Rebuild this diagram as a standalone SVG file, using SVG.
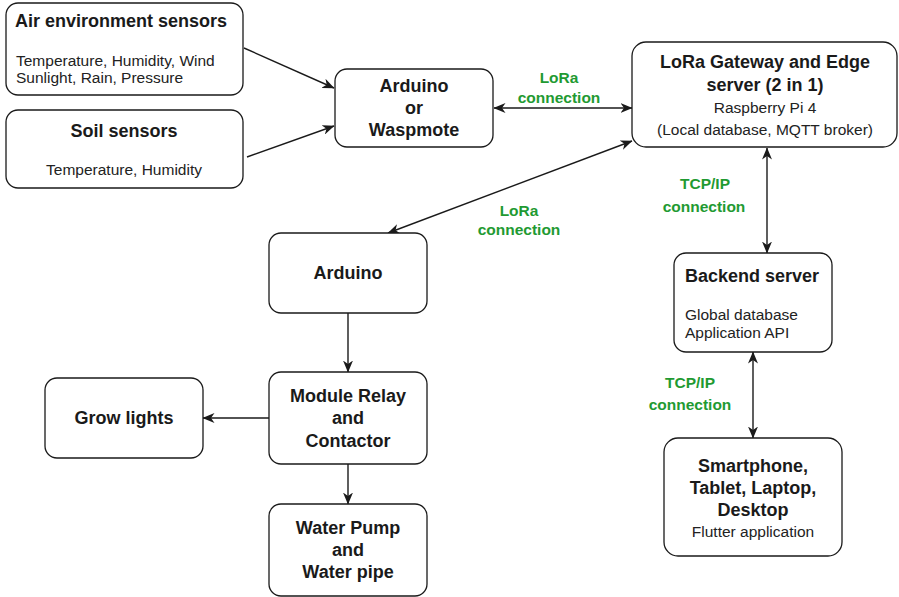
<svg xmlns="http://www.w3.org/2000/svg" width="899" height="597" viewBox="0 0 899 597">
<style>
.box{fill:#fff;stroke:#1a1a1a;stroke-width:1.3}
.b{font-family:"Liberation Sans",Arial,sans-serif;font-weight:bold;font-size:18px;fill:#1a1a1a}
.r{font-family:"Liberation Sans",Arial,sans-serif;font-size:15.5px;fill:#222}
.g{font-family:"Liberation Sans",Arial,sans-serif;font-weight:bold;font-size:15.5px;fill:#1f9a32}
.c{text-anchor:middle}
.ln{fill:none;stroke:#1a1a1a;stroke-width:1.4}
</style>
<defs>
<marker id="ah" viewBox="0 0 12 10" refX="11.5" refY="5" markerWidth="12" markerHeight="10" markerUnits="userSpaceOnUse" orient="auto-start-reverse">
<path d="M0,0 L12,5 L0,10 L3.5,5 Z" fill="#1a1a1a"/>
</marker>
</defs>
<rect width="899" height="597" fill="#fff"/>
<g id="connectors">
<line class="ln" x1="244" y1="48" x2="334" y2="88" marker-end="url(#ah)"/>
<line class="ln" x1="247" y1="157" x2="334" y2="126" marker-end="url(#ah)"/>
<line class="ln" x1="494" y1="108" x2="632" y2="108" marker-start="url(#ah)" marker-end="url(#ah)"/>
<line class="ln" x1="632" y1="141" x2="388" y2="233" marker-start="url(#ah)" marker-end="url(#ah)"/>
<line class="ln" x1="767" y1="148" x2="767" y2="253" marker-start="url(#ah)" marker-end="url(#ah)"/>
<line class="ln" x1="348" y1="313" x2="348" y2="372" marker-end="url(#ah)"/>
<line class="ln" x1="269" y1="418" x2="203" y2="418" marker-end="url(#ah)"/>
<line class="ln" x1="348" y1="464" x2="348" y2="504" marker-end="url(#ah)"/>
<line class="ln" x1="753" y1="352" x2="753" y2="438" marker-start="url(#ah)" marker-end="url(#ah)"/>
<text class="g c" x="559" y="83">LoRa</text>
<text class="g c" x="559" y="103">connection</text>
<text class="g c" x="519" y="216">LoRa</text>
<text class="g c" x="519" y="235">connection</text>
<text class="g c" x="705" y="189">TCP/IP</text>
<text class="g c" x="704" y="212">connection</text>
<text class="g c" x="690" y="388">TCP/IP</text>
<text class="g c" x="690" y="410">connection</text>
</g>
<g id="air">
<rect class="box" x="6" y="3" width="237" height="92" rx="12"/>
<text class="b" x="15" y="27">Air environment sensors</text>
<text class="r" x="16" y="66">Temperature, Humidity, Wind</text>
<text class="r" x="16" y="83">Sunlight, Rain, Pressure</text>
</g>
<g id="soil">
<rect class="box" x="6" y="110" width="237" height="78" rx="12"/>
<text class="b c" x="124" y="137">Soil sensors</text>
<text class="r c" x="124" y="175">Temperature, Humidity</text>
</g>
<g id="arduino-waspmote">
<rect class="box" x="335" y="69" width="158" height="78" rx="12"/>
<text class="b c" x="414" y="92">Arduino</text>
<text class="b c" x="414" y="114">or</text>
<text class="b c" x="414" y="136">Waspmote</text>
</g>
<g id="gateway">
<rect class="box" x="632" y="42" width="265" height="105" rx="14"/>
<text class="b c" x="765" y="68">LoRa Gateway and Edge</text>
<text class="b c" x="765" y="91">server (2 in 1)</text>
<text class="r c" x="765" y="113">Raspberry Pi 4</text>
<text class="r c" x="765" y="135">(Local database, MQTT broker)</text>
</g>
<g id="arduino">
<rect class="box" x="269" y="233" width="158" height="80" rx="12"/>
<text class="b c" x="348" y="279">Arduino</text>
</g>
<g id="relay">
<rect class="box" x="269" y="372" width="158" height="92" rx="12"/>
<text class="b c" x="348" y="402">Module Relay</text>
<text class="b c" x="348" y="424">and</text>
<text class="b c" x="348" y="447">Contactor</text>
</g>
<g id="grow">
<rect class="box" x="45" y="378" width="158" height="80" rx="12"/>
<text class="b c" x="124" y="424">Grow lights</text>
</g>
<g id="pump">
<rect class="box" x="269" y="504" width="158" height="92" rx="12"/>
<text class="b c" x="348" y="534">Water Pump</text>
<text class="b c" x="348" y="556">and</text>
<text class="b c" x="348" y="578">Water pipe</text>
</g>
<g id="backend">
<rect class="box" x="674" y="253" width="158" height="99" rx="12"/>
<text class="b" x="685" y="282">Backend server</text>
<text class="r" x="685" y="320">Global database</text>
<text class="r" x="685" y="338">Application API</text>
</g>
<g id="devices">
<rect class="box" x="664" y="438" width="178" height="118" rx="14"/>
<text class="b c" x="753" y="472">Smartphone,</text>
<text class="b c" x="753" y="494">Tablet, Laptop,</text>
<text class="b c" x="753" y="516">Desktop</text>
<text class="r c" x="753" y="537">Flutter application</text>
</g>
</svg>
